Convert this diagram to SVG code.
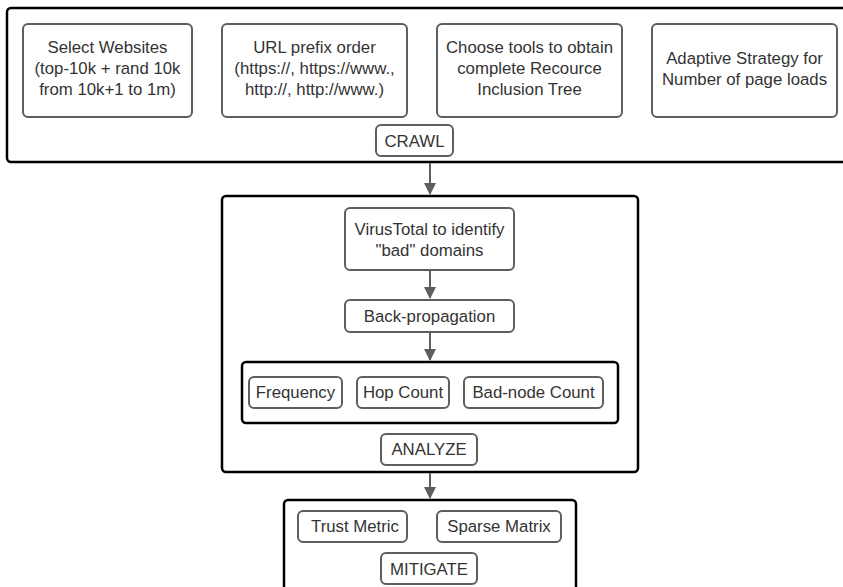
<svg xmlns="http://www.w3.org/2000/svg" width="843" height="587" viewBox="0 0 843 587">
  <style>
    .frame { fill: #ffffff; stroke: #000000; stroke-width: 2.5; }
    .box { fill: #ffffff; stroke: #5e5e5e; stroke-width: 2; }
    .label { font-family: "Liberation Sans", Arial, sans-serif; font-size: 16.8px; fill: #333333; text-anchor: middle; }
    .link { stroke: #5e5e5e; stroke-width: 2; fill: none; }
  </style>
  <defs>
    <marker id="arrow" viewBox="0 0 12 12" refX="11" refY="6" markerWidth="12" markerHeight="12" markerUnits="userSpaceOnUse" orient="auto">
      <path d="M0,0 L12,6 L0,12 Z" fill="#5e5e5e"/>
    </marker>
  </defs>
  <rect width="843" height="587" fill="#ffffff"/>

  <!-- CRAWL stage -->
  <g id="crawl-stage">
    <rect class="frame" x="7" y="8" width="845" height="154" rx="4"/>
    <g id="select-websites">
      <rect class="box" x="23" y="24" width="169" height="93" rx="5"/>
      <text class="label" x="107.5" y="53">Select Websites</text>
      <text class="label" x="107.5" y="74">(top-10k + rand 10k</text>
      <text class="label" x="107.5" y="95">from 10k+1 to 1m)</text>
    </g>
    <g id="url-prefix">
      <rect class="box" x="222" y="24" width="185" height="93" rx="5"/>
      <text class="label" x="314.5" y="53">URL prefix order</text>
      <text class="label" x="314.5" y="74">(https://, https://www.,</text>
      <text class="label" x="314.5" y="95">http://, http://www.)</text>
    </g>
    <g id="choose-tools">
      <rect class="box" x="437" y="24" width="185" height="93" rx="5"/>
      <text class="label" x="529.5" y="53">Choose tools to obtain</text>
      <text class="label" x="529.5" y="74">complete Recource</text>
      <text class="label" x="529.5" y="95">Inclusion Tree</text>
    </g>
    <g id="adaptive-strategy">
      <rect class="box" x="652" y="24" width="185" height="93" rx="5"/>
      <text class="label" x="744.5" y="64">Adaptive Strategy for</text>
      <text class="label" x="744.5" y="85">Number of page loads</text>
    </g>
    <g id="crawl-label">
      <rect class="box" x="376" y="125" width="77" height="31" rx="5"/>
      <text class="label" x="414.5" y="147">CRAWL</text>
    </g>
  </g>

  <!-- ANALYZE stage -->
  <g id="analyze-stage">
    <rect class="frame" x="222" y="196" width="416" height="276" rx="4"/>
    <g id="virustotal">
      <rect class="box" x="345" y="208" width="169" height="62" rx="5"/>
      <text class="label" x="429.5" y="235">VirusTotal to identify</text>
      <text class="label" x="429.5" y="256">"bad" domains</text>
    </g>
    <g id="back-propagation">
      <rect class="box" x="345" y="300" width="169" height="32" rx="5"/>
      <text class="label" x="429.5" y="322">Back-propagation</text>
    </g>
    <g id="metrics">
      <rect class="frame" x="242" y="362" width="376" height="61" rx="4"/>
      <g id="frequency">
        <rect class="box" x="249" y="377" width="93" height="31" rx="5"/>
        <text class="label" x="295.5" y="398">Frequency</text>
      </g>
      <g id="hop-count">
        <rect class="box" x="357" y="377" width="92" height="31" rx="5"/>
        <text class="label" x="403" y="398">Hop Count</text>
      </g>
      <g id="bad-node-count">
        <rect class="box" x="464" y="377" width="139" height="31" rx="5"/>
        <text class="label" x="533.5" y="398">Bad-node Count</text>
      </g>
    </g>
    <g id="analyze-label">
      <rect class="box" x="381" y="434" width="96" height="31" rx="5"/>
      <text class="label" x="429" y="455">ANALYZE</text>
    </g>
  </g>

  <!-- MITIGATE stage -->
  <g id="mitigate-stage">
    <rect class="frame" x="284" y="500" width="292" height="100" rx="4"/>
    <g id="trust-metric">
      <rect class="box" x="298" y="511" width="109" height="31" rx="5"/>
      <text class="label" x="355" y="532">Trust Metric</text>
    </g>
    <g id="sparse-matrix">
      <rect class="box" x="437" y="511" width="124" height="31" rx="5"/>
      <text class="label" x="499" y="532">Sparse Matrix</text>
    </g>
    <g id="mitigate-label">
      <rect class="box" x="381" y="553" width="96" height="31" rx="5"/>
      <text class="label" x="429" y="575">MITIGATE</text>
    </g>
  </g>

  <!-- connectors -->
  <g id="connectors">
    <line class="link" x1="430" y1="163" x2="430" y2="194" marker-end="url(#arrow)"/>
    <line class="link" x1="430" y1="271" x2="430" y2="298" marker-end="url(#arrow)"/>
    <line class="link" x1="430" y1="333" x2="430" y2="360" marker-end="url(#arrow)"/>
    <line class="link" x1="430" y1="473" x2="430" y2="498" marker-end="url(#arrow)"/>
  </g>
</svg>
